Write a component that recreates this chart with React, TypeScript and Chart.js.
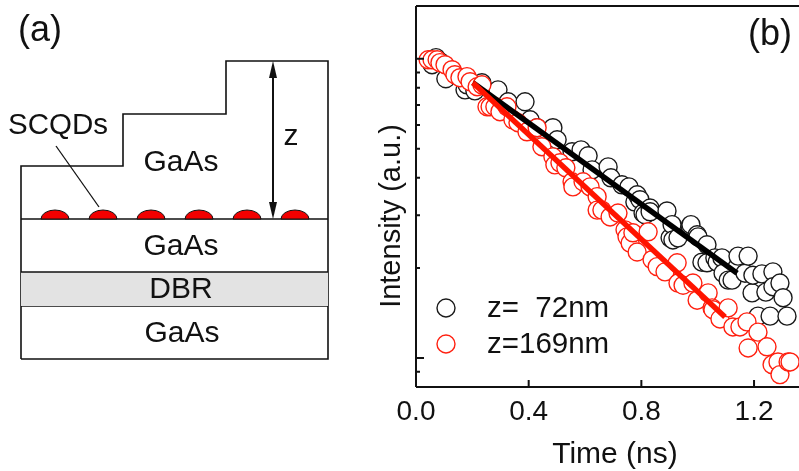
import React, { useEffect, useRef } from "react";
import { Chart, registerables } from "chart.js";

Chart.register(...registerables);

const FONT = '"Liberation Sans", Arial, sans-serif';
const INK = "#111111";

// Panel (b) data
const times72 = [0.057,0.071,0.085,0.106,0.174,0.181,0.209,0.234,0.291,0.327,0.387,0.405,0.43,0.486,0.501,0.554,0.586,0.611,0.625,0.682,0.692,0.731,0.756,0.777,0.785,0.795,0.806,0.813,0.831,0.831,0.891,0.902,0.909,0.912,0.93,0.973,0.976,0.998,1.001,1.015,1.033,1.033,1.061,1.069,1.086,1.09,1.108,1.122,1.143,1.168,1.179,1.193,1.196,1.214,1.228,1.242,1.257,1.267,1.267,1.292,1.303,1.317];
const intensity72 = [0.955,1.008,0.977,0.857,0.787,0.818,0.781,0.831,0.787,0.718,0.718,0.625,0.588,0.588,0.536,0.489,0.496,0.474,0.425,0.435,0.4,0.379,0.373,0.332,0.351,0.338,0.305,0.301,0.317,0.308,0.31,0.252,0.279,0.248,0.252,0.276,0.279,0.258,0.254,0.209,0.239,0.208,0.216,0.209,0.216,0.192,0.182,0.182,0.219,0.192,0.219,0.165,0.189,0.138,0.191,0.166,0.138,0.194,0.173,0.178,0.159,0.138];
const times169 = [0.043,0.057,0.075,0.085,0.103,0.128,0.138,0.156,0.181,0.192,0.217,0.234,0.252,0.263,0.28,0.298,0.323,0.344,0.362,0.394,0.43,0.447,0.486,0.493,0.511,0.532,0.554,0.557,0.593,0.618,0.643,0.643,0.66,0.689,0.717,0.742,0.749,0.76,0.77,0.785,0.824,0.838,0.856,0.884,0.927,0.93,0.948,0.983,0.998,1.037,1.051,1.054,1.079,1.108,1.125,1.15,1.175,1.179,1.214,1.246,1.264,1.285,1.292,1.321,1.328];
const intensity169 = [0.992,0.992,0.992,0.97,0.955,0.919,0.884,0.864,0.871,0.838,0.806,0.818,0.691,0.691,0.691,0.665,0.691,0.625,0.611,0.57,0.588,0.508,0.47,0.442,0.449,0.432,0.388,0.373,0.388,0.373,0.346,0.312,0.312,0.296,0.305,0.268,0.254,0.242,0.262,0.226,0.264,0.213,0.202,0.194,0.208,0.178,0.175,0.178,0.156,0.165,0.147,0.145,0.135,0.147,0.127,0.127,0.132,0.108,0.122,0.109,0.095,0.097,0.088,0.097,0.097];
const fitTimes72 = [0.202, 1.14];
const fitIntensity72 = [0.831, 0.192];
const fitTimes169 = [0.202, 1.097];
const fitIntensity169 = [0.831, 0.137];
const label72 = "z=  72nm";
const label169 = "z=169nm";
const xTitle = "Time (ns)";
const yTitle = "Intensity (a.u.)";
const xTickValues = [0, 0.4, 0.8, 1.2];
const majorDecades = [1, 0.1];
const minorIntensities = [0.9, 0.8, 0.7, 0.6, 0.5, 0.4, 0.3, 0.2, 0.09];

// Panel (a) schematic, in pixel-like units
const stackX = [21, 21, 123, 123, 226, 226, 328, 328, 21];
const stackY = [359, 166, 166, 114, 114, 61, 61, 359, 359];
const layerLevels = [219, 272, 306];
const dotCentres = [55, 103, 151, 199, 247, 295];

const pair = (xs: number[], ys: number[]) => xs.map((x, i) => ({ x, y: ys[i] }));

function text(ctx: CanvasRenderingContext2D, s: string, x: number, y: number, size: number) {
  ctx.font = `${size}px ${FONT}`;
  ctx.fillStyle = INK;
  ctx.textAlign = "center";
  ctx.textBaseline = "middle";
  ctx.fillText(s, x, y);
}

const decayPlugin = {
  id: "decayDecor",
  afterDatasetsDraw(chart: any) {
    const { ctx, chartArea: a, scales } = chart;
    const ox = 360;
    ctx.save();
    ctx.strokeStyle = INK;
    ctx.lineWidth = 2;
    ctx.beginPath();
    ctx.moveTo(a.left, a.top);
    ctx.lineTo(a.right, a.top);
    ctx.moveTo(a.left, a.top);
    ctx.lineTo(a.left, a.bottom);
    ctx.moveTo(a.left, a.bottom);
    ctx.lineTo(a.right, a.bottom);
    xTickValues.forEach((v) => {
      const p = scales.x.getPixelForValue(v);
      ctx.moveTo(p, a.bottom);
      ctx.lineTo(p, a.bottom - 7);
    });
    majorDecades.forEach((v) => {
      const p = scales.y.getPixelForValue(v);
      ctx.moveTo(a.left, p);
      ctx.lineTo(a.left + 8, p);
    });
    minorIntensities.forEach((v) => {
      const p = scales.y.getPixelForValue(v);
      ctx.moveTo(a.left, p);
      ctx.lineTo(a.left + 4, p);
    });
    ctx.stroke();

    xTickValues.forEach((v) => {
      text(ctx, v.toFixed(1), scales.x.getPixelForValue(v), 412, 28);
    });

    [
      { s: label72, ds: chart.data.datasets[0], y: 308 },
      { s: label169, ds: chart.data.datasets[1], y: 344 },
    ].forEach((row) => {
      ctx.beginPath();
      ctx.arc(446 - ox, row.y, 9, 0, Math.PI * 2);
      ctx.fillStyle = "#fff";
      ctx.fill();
      ctx.strokeStyle = row.ds.borderColor;
      ctx.lineWidth = 1.4;
      ctx.stroke();
      ctx.font = `29.5px ${FONT}`;
      ctx.fillStyle = INK;
      ctx.textAlign = "left";
      ctx.textBaseline = "middle";
      ctx.fillText(row.s, 487 - ox, row.y + 1);
    });

    text(ctx, "(b)", 770 - ox, 35, 36);
    text(ctx, xTitle, 615 - ox, 455, 30);
    ctx.translate(392 - ox, 216);
    ctx.rotate(-Math.PI / 2);
    text(ctx, yTitle, 0, 0, 29);
    ctx.restore();
  },
};

const schematicPlugin = {
  id: "schematicDecor",
  afterDatasetsDraw(chart: any) {
    const { ctx, scales } = chart;
    const X = (v: number) => scales.x.getPixelForValue(v);
    const Y = (v: number) => scales.y.getPixelForValue(v);
    ctx.save();
    dotCentres.forEach((c) => {
      ctx.beginPath();
      ctx.ellipse(X(c), Y(219), 14, 9, 0, Math.PI, 0);
      ctx.closePath();
      ctx.fillStyle = "#f20000";
      ctx.fill();
      ctx.strokeStyle = INK;
      ctx.lineWidth = 1;
      ctx.stroke();
    });
    ctx.fillStyle = INK;
    [
      [61, 1],
      [219, -1],
    ].forEach(([tip, dir]) => {
      ctx.beginPath();
      ctx.moveTo(X(273), Y(tip));
      ctx.lineTo(X(273) - 4, Y(tip) + dir * 17);
      ctx.lineTo(X(273) + 4, Y(tip) + dir * 17);
      ctx.closePath();
      ctx.fill();
    });
    text(ctx, "(a)", 40, 31, 36);
    text(ctx, "SCQDs", 58, 126, 29.5);
    text(ctx, "z", 291, 137, 30);
    text(ctx, "GaAs", 181, 163, 30);
    text(ctx, "GaAs", 181, 247, 30);
    text(ctx, "DBR", 181, 290, 30);
    text(ctx, "GaAs", 182, 334, 30);
    ctx.restore();
  },
};

export default function App() {
  const leftRef = useRef<HTMLCanvasElement>(null);
  const rightRef = useRef<HTMLCanvasElement>(null);

  useEffect(() => {
    const circle = (label: string, color: string, xs: number[], ys: number[], order: number) => ({
      label,
      order,
      data: pair(xs, ys),
      borderColor: color,
      backgroundColor: "#ffffff",
      pointBorderColor: color,
      pointBackgroundColor: "#ffffff",
      pointRadius: 9,
      pointBorderWidth: 1.4,
      showLine: false,
      clip: false as const,
    });
    const fit = (color: string, xs: number[], ys: number[], order: number) => ({
      order,
      data: pair(xs, ys),
      borderColor: color,
      borderWidth: 5.5,
      pointRadius: 0,
      showLine: true,
    });

    const right = new Chart(rightRef.current!, {
      type: "scatter",
      data: {
        datasets: [
          circle(label72, "#1a1a1a", times72, intensity72, 4),
          circle(label169, "#ff2010", times169, intensity169, 3),
          fit("#000000", fitTimes72, fitIntensity72, 2),
          fit("#ff1400", fitTimes169, fitIntensity169, 1),
        ] as any,
      },
      options: {
        responsive: false,
        animation: false,
        layout: { autoPadding: false, padding: { left: 0, right: 0, top: 6, bottom: 0 } },
        plugins: { legend: { display: false }, tooltip: { enabled: false } },
        scales: {
          x: {
            type: "linear",
            min: 0,
            max: 1.3596,
            afterFit: (s: any) => { s.height = 84; },
            grid: { display: false },
            border: { display: false },
            ticks: { display: false },
          },
          y: {
            type: "logarithmic",
            min: 0.08,
            max: 1.5,
            afterFit: (s: any) => { s.width = 56; },
            grid: { display: false },
            border: { display: false },
            ticks: { display: false },
          },
        },
      } as any,
      plugins: [decayPlugin],
    });

    const outline = (xs: number[], ys: number[], extra: object = {}) => ({
      data: pair(xs, ys),
      borderColor: INK,
      borderWidth: 1.6,
      pointRadius: 0,
      showLine: true,
      ...extra,
    });

    const left = new Chart(leftRef.current!, {
      type: "scatter",
      data: {
        datasets: [
          outline([21, 328], [layerLevels[1], layerLevels[1]], {
            fill: { target: { value: layerLevels[2] } },
            backgroundColor: "#e3e3e3",
          }),
          outline(stackX, stackY),
          outline([21, 328], [layerLevels[0], layerLevels[0]]),
          outline([21, 328], [layerLevels[2], layerLevels[2]]),
          outline([56, 99], [146, 207], { borderWidth: 1.3 }),
          outline([273, 273], [70, 210], { borderWidth: 2 }),
        ] as any,
      },
      options: {
        responsive: false,
        animation: false,
        layout: { autoPadding: false, padding: 0 },
        plugins: { legend: { display: false }, tooltip: { enabled: false } },
        scales: {
          x: { type: "linear", min: 0, max: 360, display: false },
          y: { type: "linear", min: 0, max: 471, reverse: true, display: false },
        },
      } as any,
      plugins: [schematicPlugin],
    });

    return () => {
      right.destroy();
      left.destroy();
    };
  }, []);

  return (
    <div style={{ position: "absolute", left: 0, top: 0, width: 799, height: 471, background: "#fff", overflow: "hidden" }}>
      <canvas ref={leftRef} width={360} height={471} style={{ position: "absolute", left: 0, top: 0 }} />
      <canvas ref={rightRef} width={439} height={471} style={{ position: "absolute", left: 360, top: 0 }} />
    </div>
  );
}
